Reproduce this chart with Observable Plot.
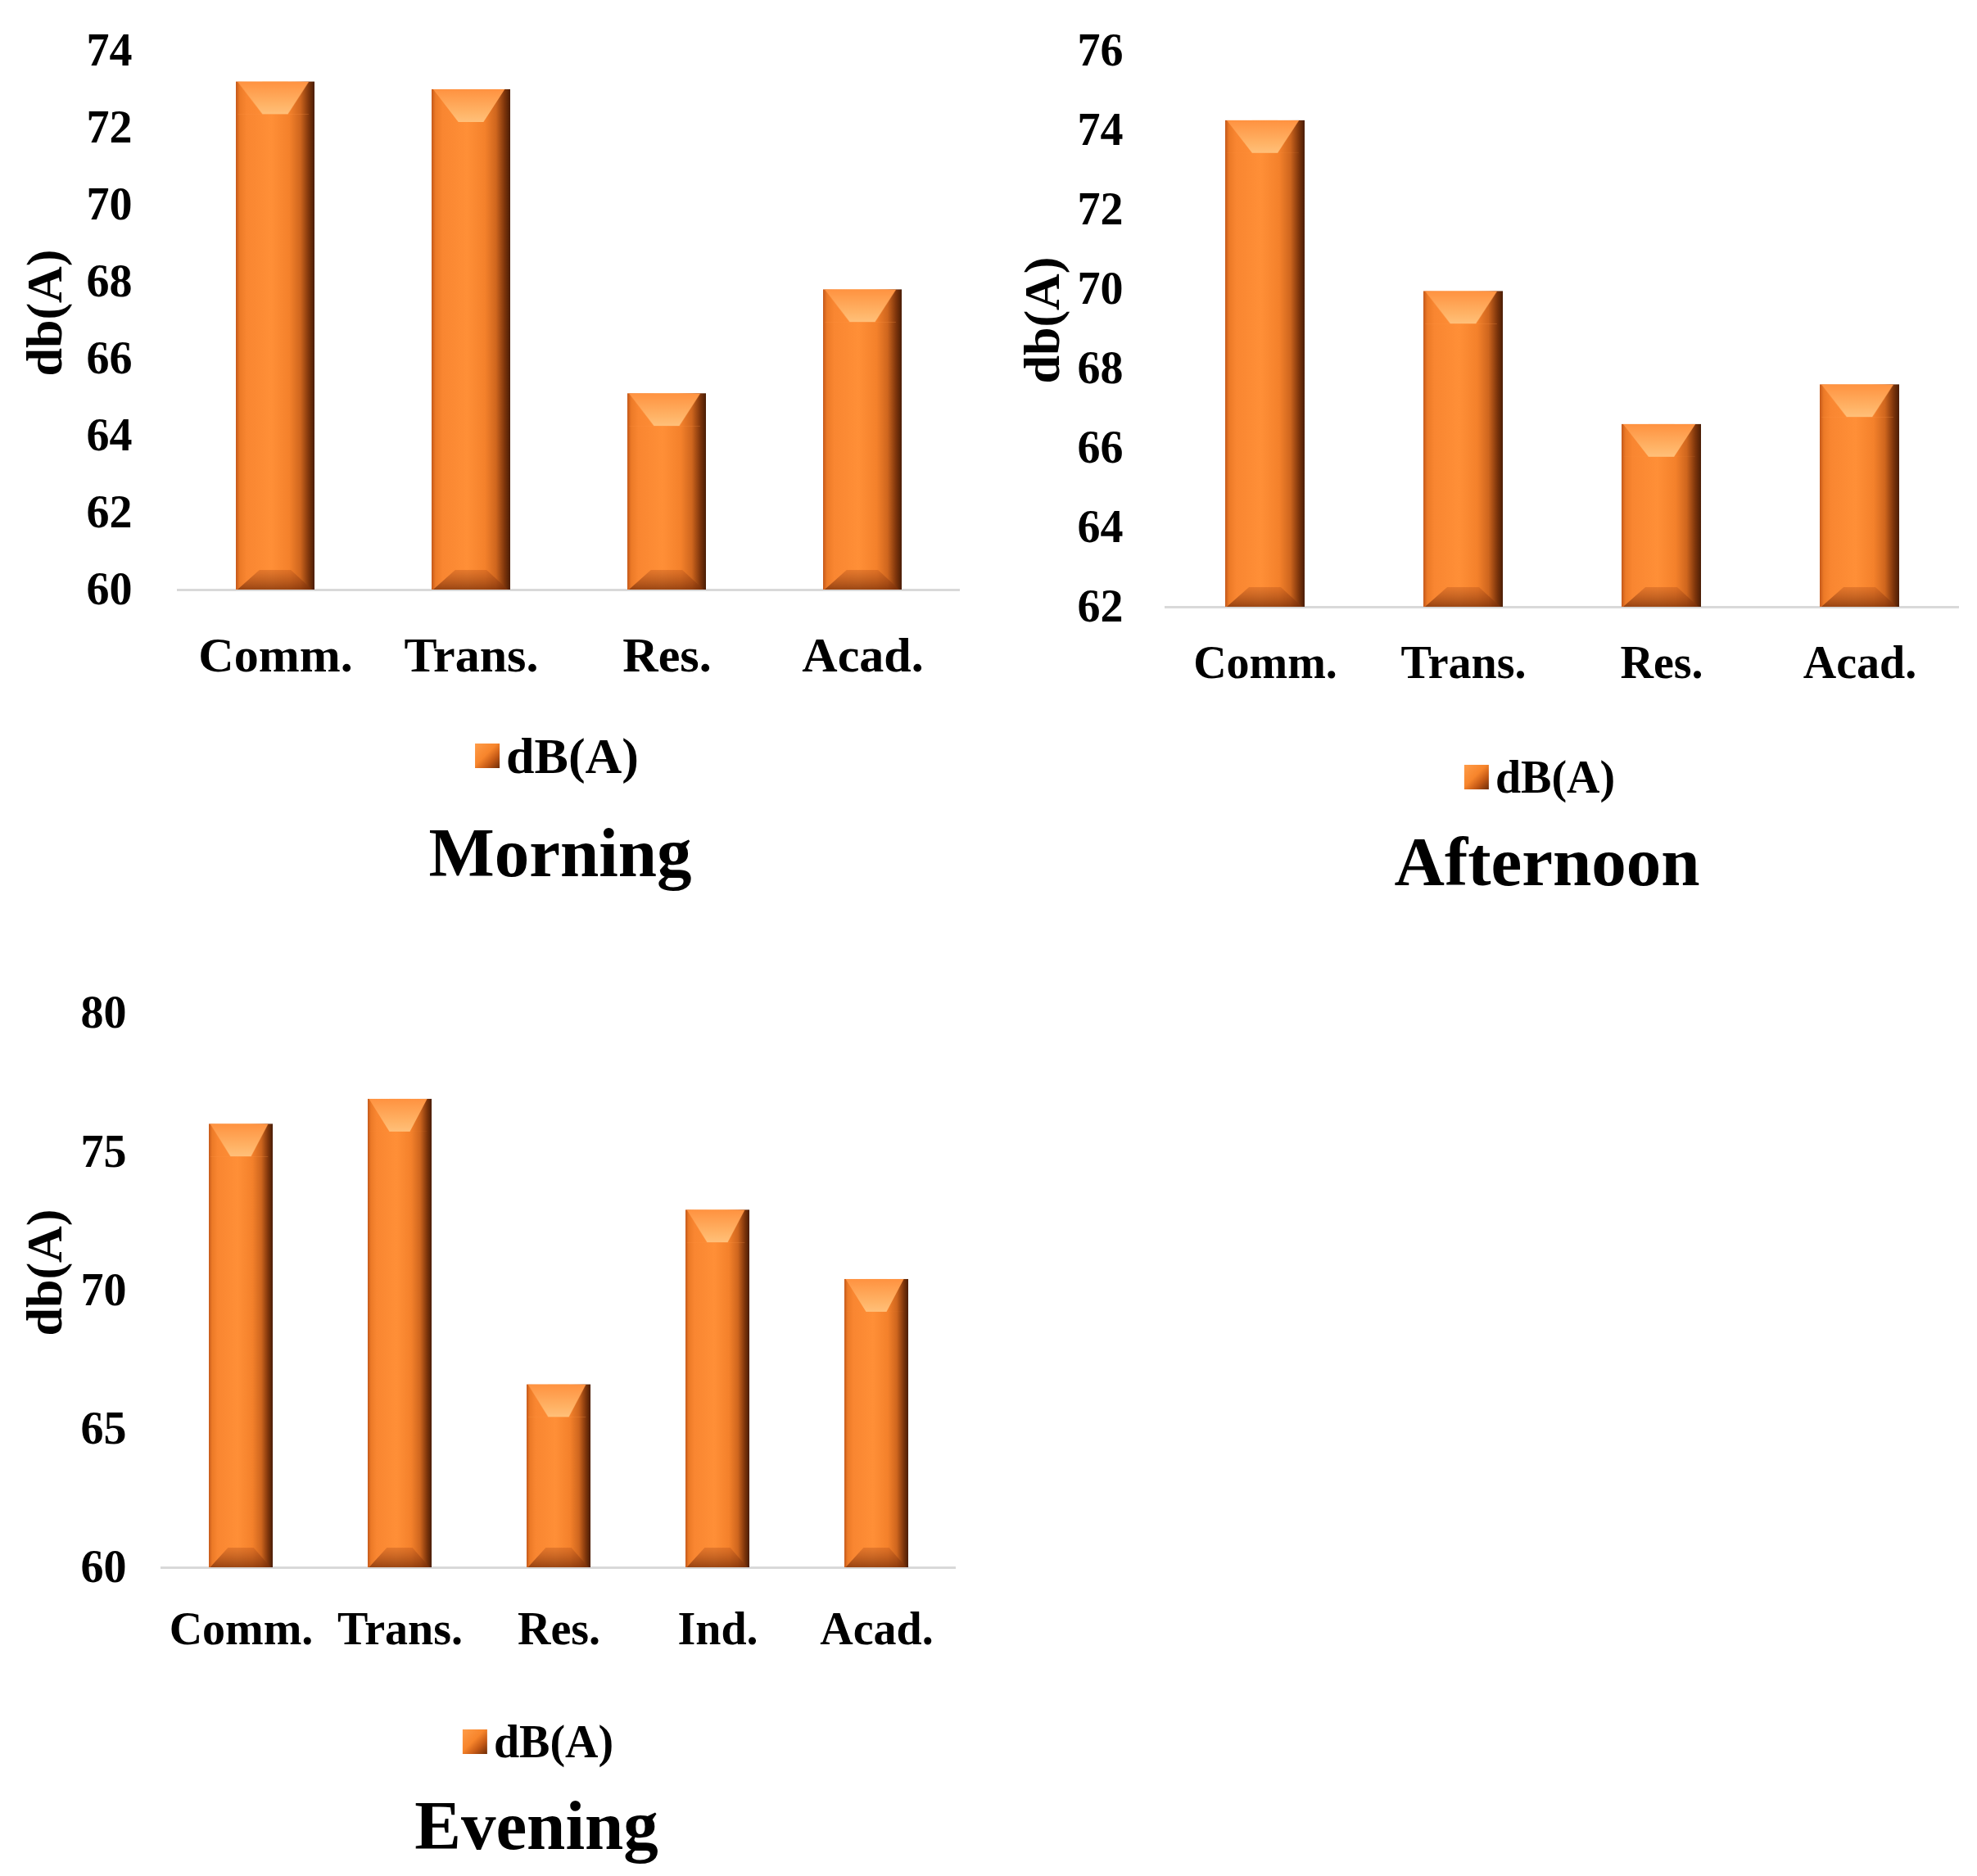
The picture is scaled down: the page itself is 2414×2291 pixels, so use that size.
<!DOCTYPE html>
<html>
<head>
<meta charset="utf-8">
<script src="https://cdn.jsdelivr.net/npm/d3@7"></script>
<script src="https://cdn.jsdelivr.net/npm/@observablehq/plot@0.6"></script>
<style>
  html, body { margin: 0; padding: 0; background: #fff; }
  #page { position: relative; width: 2414px; height: 2291px; background: #fff; font-family: "Liberation Serif", "Times New Roman", serif; font-weight: bold; color: #000; overflow: hidden; }
  .chart { position: absolute; }
  .ylab { position: absolute; font-size: 62px; line-height: 1; white-space: nowrap; transform: translate(-50%, -50%) rotate(-90deg); }
  .legend { position: absolute; display: flex; align-items: center; line-height: 1; white-space: nowrap; transform: translate(-50%, -50%); }
  .sw { width: 30px; height: 30px; margin-right: 8px; background:
        linear-gradient(135deg, #ff9c48 0%, #f7852c 45%, #c65a16 70%, #6e2d07 100%); }
  .title { position: absolute; font-size: 85px; line-height: 1; white-space: nowrap; transform: translate(-50%, -50%); }
</style>
</head>
<body>
<svg width="0" height="0" style="position:absolute">
  <defs>
    <linearGradient id="barGrad" x1="0" y1="0" x2="1" y2="0">
      <stop offset="0%" stop-color="#c4581a"/>
      <stop offset="5%" stop-color="#ec7a27"/>
      <stop offset="14%" stop-color="#f98631"/>
      <stop offset="45%" stop-color="#ff8f37"/>
      <stop offset="68%" stop-color="#f4812b"/>
      <stop offset="82%" stop-color="#cf661e"/>
      <stop offset="93%" stop-color="#7c340b"/>
      <stop offset="100%" stop-color="#4a1d05"/>
    </linearGradient>
    <linearGradient id="chevGrad" x1="0" y1="0" x2="0" y2="1">
      <stop offset="0%" stop-color="#ff9240"/>
      <stop offset="70%" stop-color="#ffb366"/>
      <stop offset="100%" stop-color="#ffc07a"/>
    </linearGradient>
    <pattern id="topPat" patternUnits="objectBoundingBox" patternContentUnits="objectBoundingBox" width="1" height="1">
      <polygon points="0.02,0 0.93,0 0.66,1 0.34,1" fill="url(#chevGrad)"/>
    </pattern>
    <linearGradient id="botGrad" x1="0" y1="0" x2="0" y2="1">
      <stop offset="0%" stop-color="#b5511a" stop-opacity="0.35"/>
      <stop offset="100%" stop-color="#7a3009" stop-opacity="0.75"/>
    </linearGradient>
    <pattern id="botPat" patternUnits="objectBoundingBox" patternContentUnits="objectBoundingBox" width="1" height="1">
      <polygon points="0.3,0 0.7,0 0.97,1 0.02,1" fill="url(#botGrad)"/>
    </pattern>
  </defs>
</svg>
<div id="page"></div>
<script>
// ---- data ----
const morningCategories = ["Comm.", "Trans.", "Res.", "Acad."];
const morningValues = [73.2, 73.0, 65.1, 67.8];
const morningTicks = [60, 62, 64, 66, 68, 70, 72, 74];

const afternoonCategories = ["Comm.", "Trans.", "Res.", "Acad."];
const afternoonValues = [74.25, 69.95, 66.6, 67.6];
const afternoonTicks = [62, 64, 66, 68, 70, 72, 74, 76];

const eveningCategories = ["Comm.", "Trans.", "Res.", "Ind.", "Acad."];
const eveningValues = [76.0, 76.9, 66.6, 72.9, 70.4];
const eveningTicks = [60, 65, 70, 75, 80];

const seriesName = "dB(A)";
const yLabel = "db(A)";

const page = document.getElementById("page");

function panel(cfg) {
  const data = cfg.cats.map((c, i) => ({cat: c, v: cfg.vals[i]}));
  const lo = cfg.ticks[0], hi = cfg.ticks[cfg.ticks.length - 1];
  const chart = Plot.plot({
    width: cfg.width,
    height: cfg.height,
    marginLeft: cfg.ml, marginRight: cfg.mr, marginTop: cfg.mt, marginBottom: cfg.mb,
    style: {fontFamily: '"Liberation Serif", "Times New Roman", serif', fontWeight: "bold", color: "#000", background: "transparent", overflow: "visible"},
    x: {domain: cfg.cats, paddingInner: 0.6, paddingOuter: 0.3, label: null},
    y: {domain: [lo, hi], label: null},
    marks: [
      Plot.ruleY([lo], {stroke: "#d9d9d9", strokeWidth: 3}),
      Plot.barY(data, {x: "cat", y1: lo, y2: "v", fill: "url(#barGrad)"}),
      Plot.barY(data, {x: "cat", y1: "v", y2: "v", insetBottom: -40, fill: "url(#topPat)"}),
      Plot.barY(data, {x: "cat", y1: lo, y2: lo, insetTop: -24, fill: "url(#botPat)"}),
      Plot.axisY({ticks: cfg.ticks, tickSize: 0, tickPadding: cfg.yPad, fontSize: cfg.yFont, label: null, tickFormat: d => String(d)}),
      Plot.axisX({tickSize: 0, tickPadding: cfg.xPad, fontSize: cfg.xFont, label: null, style: {letterSpacing: cfg.xSpacing || "0px"}})
    ]
  });
  chart.classList.add("chart");
  chart.style.left = cfg.left + "px";
  chart.style.top = cfg.top + "px";
  page.appendChild(chart);

  const yl = document.createElement("div");
  yl.className = "ylab";
  yl.textContent = yLabel;
  yl.style.left = cfg.ylx + "px";
  yl.style.top = cfg.yly + "px";
  page.appendChild(yl);

  const lg = document.createElement("div");
  lg.className = "legend";
  lg.style.left = cfg.lgx + "px";
  lg.style.top = cfg.lgy + "px";
  lg.style.fontSize = cfg.lgFont + "px";
  const sw = document.createElement("div");
  sw.className = "sw";
  const lt = document.createElement("span");
  lt.textContent = seriesName;
  lg.appendChild(sw); lg.appendChild(lt);
  page.appendChild(lg);

  const t = document.createElement("div");
  t.className = "title";
  t.textContent = cfg.title;
  t.style.left = cfg.tx + "px";
  t.style.top = cfg.ty + "px";
  page.appendChild(t);
}

panel({
  cats: morningCategories, vals: morningValues, ticks: morningTicks, title: "Morning",
  left: 0, top: 0, width: 1200, height: 880, ml: 216, mr: 28, mt: 62, mb: 160,
  yPad: 55, yFont: 56, xPad: 57, xFont: 60, xSpacing: "2px",
  ylx: 54, yly: 382, lgx: 680, lgy: 923, lgFont: 62, tx: 684, ty: 1041
});

panel({
  cats: afternoonCategories, vals: afternoonValues, ticks: afternoonTicks, title: "Afternoon",
  left: 1200, top: 0, width: 1214, height: 880, ml: 222, mr: 22, mt: 62, mb: 139,
  yPad: 51, yFont: 56, xPad: 47, xFont: 56,
  ylx: 1272, yly: 391, lgx: 1880, lgy: 949, lgFont: 56, tx: 1889, ty: 1052
});

panel({
  cats: eveningCategories, vals: eveningValues, ticks: eveningTicks, title: "Evening",
  left: 0, top: 1150, width: 1200, height: 900, ml: 196, mr: 33, mt: 87, mb: 136,
  yPad: 42, yFont: 56, xPad: 54, xFont: 56,
  ylx: 54, yly: 1554, lgx: 657, lgy: 2127, lgFont: 56, tx: 655, ty: 2229
});
</script>
</body>
</html>
